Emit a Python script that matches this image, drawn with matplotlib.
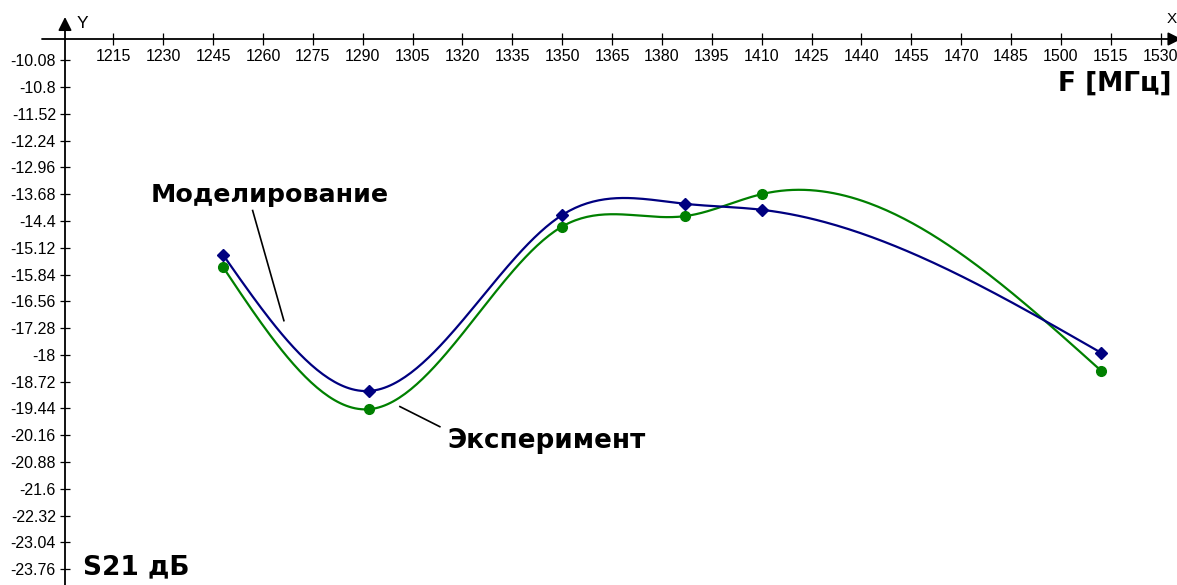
import numpy as np
import matplotlib
matplotlib.use('Agg')
import matplotlib.pyplot as plt

# measured points (frequency in MHz, S21 in dB)
freq = [1248, 1292, 1350, 1387, 1410, 1512]
s21_model = [-15.31, -18.97, -14.24, -13.94, -14.10, -17.94]
s21_exp = [-15.64, -19.46, -14.55, -14.27, -13.68, -18.42]

x_ticks = [1215, 1230, 1245, 1260, 1275, 1290, 1305, 1320, 1335, 1350, 1365,
           1380, 1395, 1410, 1425, 1440, 1455, 1470, 1485, 1500, 1515, 1530]
y_ticks = [-10.08, -10.8, -11.52, -12.24, -12.96, -13.68, -14.4, -15.12, -15.84,
           -16.56, -17.28, -18, -18.72, -19.44, -20.16, -20.88, -21.6, -22.32,
           -23.04, -23.76]
y_tick_labels = ['-10.08', '-10.8', '-11.52', '-12.24', '-12.96', '-13.68', '-14.4',
                 '-15.12', '-15.84', '-16.56', '-17.28', '-18', '-18.72', '-19.44',
                 '-20.16', '-20.88', '-21.6', '-22.32', '-23.04', '-23.76']

# leader lines for the two captions
model_leader_x = [1256.9, 1266.3]
model_leader_y = [-14.12, -17.08]
exp_leader_x = [1301.2, 1313.2]
exp_leader_y = [-19.39, -19.93]

plt.rcParams['font.family'] = ['Liberation Sans', 'DejaVu Sans']


def smooth(x, y, n=300):
    # natural cubic spline, the way the original program draws its curves
    x = np.asarray(x, float)
    y = np.asarray(y, float)
    h = np.diff(x)
    k = len(x)
    A = np.zeros((k, k))
    b = np.zeros(k)
    A[0, 0] = A[-1, -1] = 1
    for i in range(1, k - 1):
        A[i, i - 1] = h[i - 1]
        A[i, i] = 2 * (h[i - 1] + h[i])
        A[i, i + 1] = h[i]
        b[i] = 6 * ((y[i + 1] - y[i]) / h[i] - (y[i] - y[i - 1]) / h[i - 1])
    M = np.linalg.solve(A, b)
    xs = np.linspace(x[0], x[-1], n)
    j = np.clip(np.searchsorted(x, xs) - 1, 0, k - 2)
    t1 = x[j + 1] - xs
    t2 = xs - x[j]
    ys = (M[j] * t1 ** 3 + M[j + 1] * t2 ** 3) / (6 * h[j]) \
        + (y[j] / h[j] - M[j] * h[j] / 6) * t1 \
        + (y[j + 1] / h[j] - M[j + 1] * h[j] / 6) * t2
    return xs, ys


fig = plt.figure(figsize=(11.77, 5.85), dpi=100)
ax = fig.add_axes([65 / 1177, 0, 1112 / 1177, 546 / 585])

blue = '#000080'
green = '#008000'

xs, ys = smooth(freq, s21_exp)
ax.plot(xs, ys, color=green, lw=1.6)
ax.plot(freq, s21_exp, 'o', color=green, ms=7)
xs, ys = smooth(freq, s21_model)
ax.plot(xs, ys, color=blue, lw=1.6)
ax.plot(freq, s21_model, 'D', color=blue, ms=6)

ax.set_xlim(1200.47, 1534.9)
ax.set_ylim(-24.185, -9.51)

ax.set_xticks(x_ticks)
ax.set_yticks(y_ticks)
ax.set_yticklabels(y_tick_labels)
ax.spines['bottom'].set_position(('axes', 1.0))
for s in ax.spines.values():
    s.set_visible(False)
ax.tick_params(axis='x', direction='inout', length=8, width=0.9, pad=3, labelsize=11.5)
ax.tick_params(axis='y', direction='inout', length=7, width=0.9, pad=3, labelsize=11.5)

# axis lines with arrow heads
arrow = dict(arrowstyle='-|>', color='black', lw=1.3, mutation_scale=20, shrinkA=0, shrinkB=0)
ax.annotate('', xy=(0, 1 + 22 / 546), xytext=(0, 0), xycoords='axes fraction',
            textcoords='axes fraction', arrowprops=arrow, annotation_clip=False)
ax.annotate('', xy=(1.004, 1), xytext=(-23 / 1112, 1), xycoords='axes fraction',
            textcoords='axes fraction', arrowprops=arrow, annotation_clip=False)
ax.text(0.0105, 1.028, 'Y', transform=ax.transAxes, fontsize=12.5, va='center', ha='left')
ax.text(1.0, 1.036, 'X', transform=ax.transAxes, fontsize=11, va='center', ha='right')

# captions
bold = ['DejaVu Sans']
ax.text(1262.1, -13.70, 'Моделирование', fontsize=18.3, fontweight='bold',
        family=bold, ha='center', va='center')
ax.plot(model_leader_x, model_leader_y, color='black', lw=1.2)
ax.text(1345.4, -20.31, 'Эксперимент', fontsize=18.8, fontweight='bold',
        family=bold, ha='center', va='center')
ax.plot(exp_leader_x, exp_leader_y, color='black', lw=1.2)
ax.text(0.9955, 0.9176, 'F [МГц]', transform=ax.transAxes, fontsize=19,
        fontweight='bold', family=bold, ha='right', va='center')
ax.text(0.0162, 0.033, 'S21 дБ', transform=ax.transAxes, fontsize=19,
        fontweight='bold', family=bold, ha='left', va='center')

fig.savefig('out.png', dpi=100)
